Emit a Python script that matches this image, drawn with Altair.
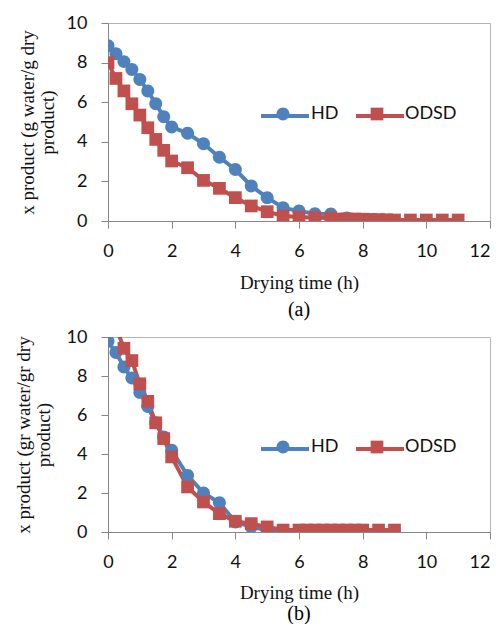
import altair as alt
import pandas as pd

# ---------------- data ----------------
series_names = ["HD", "ODSD"]
series_colors = ["#4F81BD", "#C0504D"]

# panel (a)
hd_a_time = [0, 0.25, 0.5, 0.75, 1, 1.25, 1.5, 1.75, 2, 2.5, 3, 3.5, 4, 4.5, 5, 5.5, 6, 6.5, 7, 7.5, 8, 8.5]
hd_a_x = [8.85, 8.45, 8.05, 7.65, 7.15, 6.57, 5.92, 5.27, 4.75, 4.43, 3.9, 3.22, 2.6, 1.77, 1.18, 0.67, 0.5, 0.37, 0.35, 0.15, 0.06, 0.02]
odsd_a_time = [0, 0.25, 0.5, 0.75, 1, 1.25, 1.5, 1.75, 2, 2.5, 3, 3.5, 4, 4.5, 5, 5.5, 6, 6.5, 7,
               7.25, 7.5, 7.75, 8, 8.25, 8.5, 8.75, 9, 9.5, 10, 10.5, 11]
odsd_a_x = [8.0, 7.2, 6.57, 5.92, 5.35, 4.71, 4.12, 3.57, 3.03, 2.69, 2.05, 1.65, 1.18, 0.76, 0.47, 0.25, 0.2, 0.17, 0.15,
            0.1, 0.1, 0.1, 0.09, 0.08, 0.07, 0.06, 0.05, 0.05, 0.05, 0.05, 0.05]

# panel (b)
hd_b_time = [0, 0.25, 0.5, 0.75, 1, 1.25, 1.5, 1.75, 2, 2.5, 3, 3.5, 4, 4.5, 5, 5.5, 6, 6.5, 7, 7.5, 8, 8.5, 9]
hd_b_x = [9.78, 9.2, 8.46, 7.9, 7.16, 6.43, 5.6, 4.87, 4.19, 2.9, 2.0, 1.5, 0.51, 0.26, 0.09, 0.05, 0.05, 0.05, 0.05, 0.05, 0.05, 0.05, 0.05]
odsd_b_time = [0.25, 0.5, 0.75, 1, 1.25, 1.5, 1.75, 2, 2.5, 3, 3.5, 4, 4.5, 5, 5.5, 6,
               6.25, 6.5, 6.75, 7, 7.25, 7.5, 7.75, 8, 8.5, 9]
odsd_b_x = [10.5, 9.42, 8.79, 7.6, 6.7, 5.6, 4.79, 3.85, 2.31, 1.54, 0.94, 0.55, 0.43, 0.26, 0.1, 0.1,
            0.1, 0.1, 0.1, 0.1, 0.1, 0.1, 0.1, 0.1, 0.1, 0.1]

x_ticks = [0, 2, 4, 6, 8, 10, 12]
y_ticks = [0, 2, 4, 6, 8, 10]

CIRCLE = "M-0.27,0A0.27,0.27,0,1,1,0.27,0A0.27,0.27,0,1,1,-0.27,0Z"
SQUARE = "M-0.265,-0.265L0.265,-0.265L0.265,0.265L-0.265,0.265Z"


def frame(hd_t, hd_v, od_t, od_v):
    a = pd.DataFrame({"t": hd_t, "v": hd_v, "series": "HD"})
    b = pd.DataFrame({"t": od_t, "v": od_v, "series": "ODSD"})
    return pd.concat([a, b], ignore_index=True)


def panel(df, ytitle, caption, w, h, lx, ly, y_title_pad, x_label_pad, x_title_pad, cap_offset):
    color_scale = alt.Scale(domain=series_names, range=series_colors)
    shape_scale = alt.Scale(domain=series_names, range=[CIRCLE, SQUARE])
    x = alt.X("t:Q", scale=alt.Scale(domain=[0, 12], nice=False),
              axis=alt.Axis(values=x_ticks, title="Drying time (h)", labelPadding=x_label_pad,
                            titlePadding=x_title_pad, labelFlush=False,
                            labelAlign={"condition": {"test": "datum.value >= 12", "value": "right"},
                                        "value": "center"}))
    y = alt.Y("v:Q", scale=alt.Scale(domain=[0, 10], nice=False),
              axis=alt.Axis(values=y_ticks, title=ytitle, labelPadding=14,
                            titlePadding=y_title_pad, labelFlush=False))
    common_leg = dict(orient="none", legendX=lx, legendY=ly, direction="horizontal", title=None,
                      symbolSize=2304, labelFont="Lato", labelFontSize=18, labelColor="#111111",
                      labelOffset=4, padding=0)
    lines = alt.Chart(df).mark_line(strokeWidth=4, clip=True).encode(
        x=x, y=y,
        color=alt.Color("series:N", scale=color_scale,
                        legend=alt.Legend(symbolType="stroke", symbolStrokeWidth=4, labelExpr="''",
                                          columnPadding=31, **common_leg)),
    )
    points = alt.Chart(df).mark_point(filled=True, size=2304, opacity=1, strokeWidth=0, clip=True).encode(
        x=x, y=y,
        color=alt.Color("series:N", scale=color_scale,
                        legend=alt.Legend(symbolStrokeWidth=0, columnPadding=14, **common_leg)),
        shape=alt.Shape("series:N", scale=shape_scale,
                        legend=alt.Legend(symbolStrokeWidth=0, columnPadding=14, **common_leg)),
    )
    return alt.layer(lines, points).resolve_legend(color="independent", shape="independent").properties(
        width=w, height=h,
        title=alt.TitleParams(caption, orient="bottom", font="Liberation Serif", fontSize=20,
                              fontWeight="normal", color="black", offset=cap_offset, anchor="middle"),
    )


df_a = frame(hd_a_time, hd_a_x, odsd_a_time, odsd_a_x)
df_b = frame(hd_b_time, hd_b_x, odsd_b_time, odsd_b_x)

pa = panel(df_a, ["x product (g water/g dry", "product)"], "(a)", 382, 198, 151, 67, 9, 14, 13, 8)
pb = panel(df_b, ["x product (gr water/gr dry", "product)"], "(b)", 382, 195, 151, 86, 13, 14, 12, 2)

chart = alt.vconcat(pa, pb, spacing=6).properties(
    padding={"left": 5, "top": 5, "right": 0, "bottom": -1},
).configure_view(
    stroke="#b4b4b4", strokeWidth=1
).configure_axis(
    grid=False, domainColor="#868686", tickColor="#868686", tickSize=7,
    labelFont="Lato", labelFontSize=18, labelColor="#111111",
    titleFont="Liberation Serif", titleFontSize=19, titleFontWeight="normal", titleColor="#111111",
    titleLineHeight=20,
)

chart.save("out.html", embed_options={"renderer": "svg", "actions": False})
